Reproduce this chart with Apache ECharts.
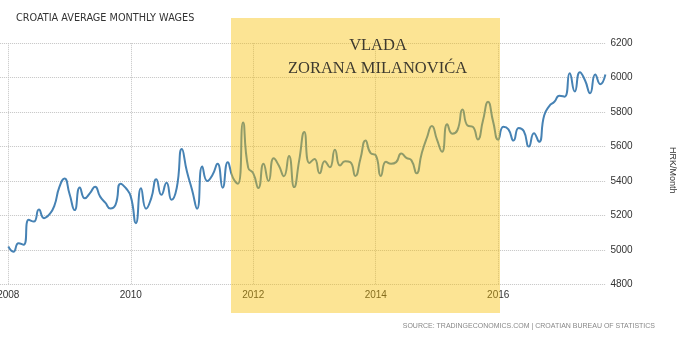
<!DOCTYPE html>
<html>
<head>
<meta charset="utf-8">
<script src="https://cdn.jsdelivr.net/npm/echarts@6/dist/echarts.min.js"></script>
<style>
  html, body { margin: 0; padding: 0; background: #ffffff; }
  #chart { width: 682px; height: 340px; }
</style>
</head>
<body>
<div id="chart"></div>
<script>
// Average monthly net wages in Croatia, HRK per month
const wages2008 = [5020, 4990, 5040, 5030, 5175, 5165, 5235, 5185, 5205, 5255, 5365, 5415];
const wages2009 = [5325, 5232, 5363, 5300, 5330, 5367, 5310, 5275, 5241, 5262, 5385, 5360];
const wages2010 = [5310, 5156, 5358, 5240, 5300, 5410, 5320, 5390, 5291, 5360, 5586, 5455];
const wages2011 = [5350, 5240, 5485, 5400, 5435, 5500, 5362, 5510, 5420, 5385, 5740, 5478];
const wages2012 = [5445, 5360, 5500, 5400, 5532, 5490, 5428, 5545, 5365, 5520, 5685, 5505];
const wages2013 = [5528, 5445, 5515, 5480, 5582, 5490, 5515, 5510, 5430, 5530, 5635, 5562];
const wages2014 = [5550, 5430, 5512, 5500, 5510, 5560, 5535, 5520, 5445, 5560, 5650, 5720];
const wages2015 = [5640, 5570, 5730, 5675, 5695, 5815, 5722, 5715, 5642, 5750, 5860, 5745];
const wages2016 = [5640, 5715, 5700, 5635, 5708, 5690, 5600, 5678, 5628, 5780, 5835, 5860];
const wages2017 = [5895, 5890, 6025, 5920, 6032, 5985, 5910, 6018, 5962, 6018];

// Two lead-in months on the axis before the first observation (Jan 2008)
const leadMonths = ['2007-11', '2007-12'];
const yearTicks = [2008, 2010, 2012, 2014, 2016];
const yTicks = { min: 4800, max: 6200, step: 200 };

const wages = [].concat(wages2008, wages2009, wages2010, wages2011, wages2012,
                        wages2013, wages2014, wages2015, wages2016, wages2017);

const months = leadMonths.slice();
for (let i = 0; i < wages.length; i++) {
  const y = 2008 + Math.floor(i / 12);
  const m = (i % 12) + 1;
  months.push(y + '-' + (m < 10 ? '0' + m : m));
}
const seriesData = leadMonths.map(() => null).concat(wages);

const isYearTick = (idx, val) =>
  val.slice(5) === '01' && yearTicks.indexOf(+val.slice(0, 4)) !== -1;

const chart = echarts.init(document.getElementById('chart'), null, { renderer: 'canvas' });

const option = {
  animation: false,
  backgroundColor: '#ffffff',
  title: {
    text: 'CROATIA AVERAGE MONTHLY WAGES',
    left: 16,
    top: 13,
    padding: 0,
    textStyle: { fontFamily: 'DejaVu Sans', fontSize: 9.7, fontWeight: 'normal', color: '#333333' }
  },
  grid: { left: -1.9, right: 76.6, top: 43.2, bottom: 55.5, outerBoundsMode: 'none', containLabel: false },
  xAxis: {
    type: 'category',
    data: months,
    boundaryGap: false,
    axisLine: { show: false },
    axisTick: { show: false },
    axisLabel: {
      interval: isYearTick,
      formatter: v => v.slice(0, 4),
      fontFamily: 'Liberation Sans',
      fontSize: 10,
      color: '#333333',
      margin: 6
    },
    splitLine: {
      show: true,
      interval: isYearTick,
      lineStyle: { color: '#c4c4c4', type: 'dotted', width: 1 }
    }
  },
  yAxis: {
    type: 'value',
    position: 'right',
    min: yTicks.min,
    max: yTicks.max,
    interval: yTicks.step,
    axisLine: { show: false },
    axisTick: { show: false },
    axisLabel: {
      fontFamily: 'Liberation Sans', fontSize: 10, color: '#333333', margin: 5,
      formatter: v => String(v)
    },
    splitLine: { lineStyle: { color: '#c4c4c4', type: 'dotted', width: 1 } },
    name: 'HRK/Month',
    nameLocation: 'middle',
    nameRotate: -90,
    nameGap: 63,
    nameTextStyle: { fontFamily: 'Liberation Sans', fontSize: 9, color: '#333333', padding: [0, 0, 0, 13] }
  },
  series: [{
    type: 'line',
    data: seriesData,
    smooth: 0.55,
    showSymbol: false,
    lineStyle: { color: '#4682b4', width: 2 },
    itemStyle: { color: '#4682b4' }
  }],
  graphic: [
    {
      // Government term highlight, laid over the chart
      type: 'rect',
      z: 50,
      silent: true,
      shape: { x: 231, y: 18, width: 269, height: 295 },
      style: { fill: 'rgba(247,190,0,0.42)' }
    },
    {
      type: 'text',
      z: 60,
      silent: true,
      x: 378, y: 46,
      style: {
        text: 'VLADA',
        font: 'normal 16.5px "Liberation Serif"',
        fill: '#3e3a2f',
        align: 'center',
        verticalAlign: 'middle'
      }
    },
    {
      type: 'text',
      z: 60,
      silent: true,
      x: 377.5, y: 68.3,
      style: {
        text: 'ZORANA MILANOVIĆA',
        font: 'normal 16.5px "Liberation Serif"',
        fill: '#3e3a2f',
        align: 'center',
        verticalAlign: 'middle'
      }
    },
    {
      type: 'text',
      silent: true,
      x: 655, y: 326,
      style: {
        text: 'SOURCE: TRADINGECONOMICS.COM | CROATIAN BUREAU OF STATISTICS',
        font: 'normal 7px "Liberation Sans"',
        fill: '#888888',
        align: 'right',
        verticalAlign: 'middle'
      }
    }
  ]
};

chart.setOption(option);
</script>
</body>
</html>
